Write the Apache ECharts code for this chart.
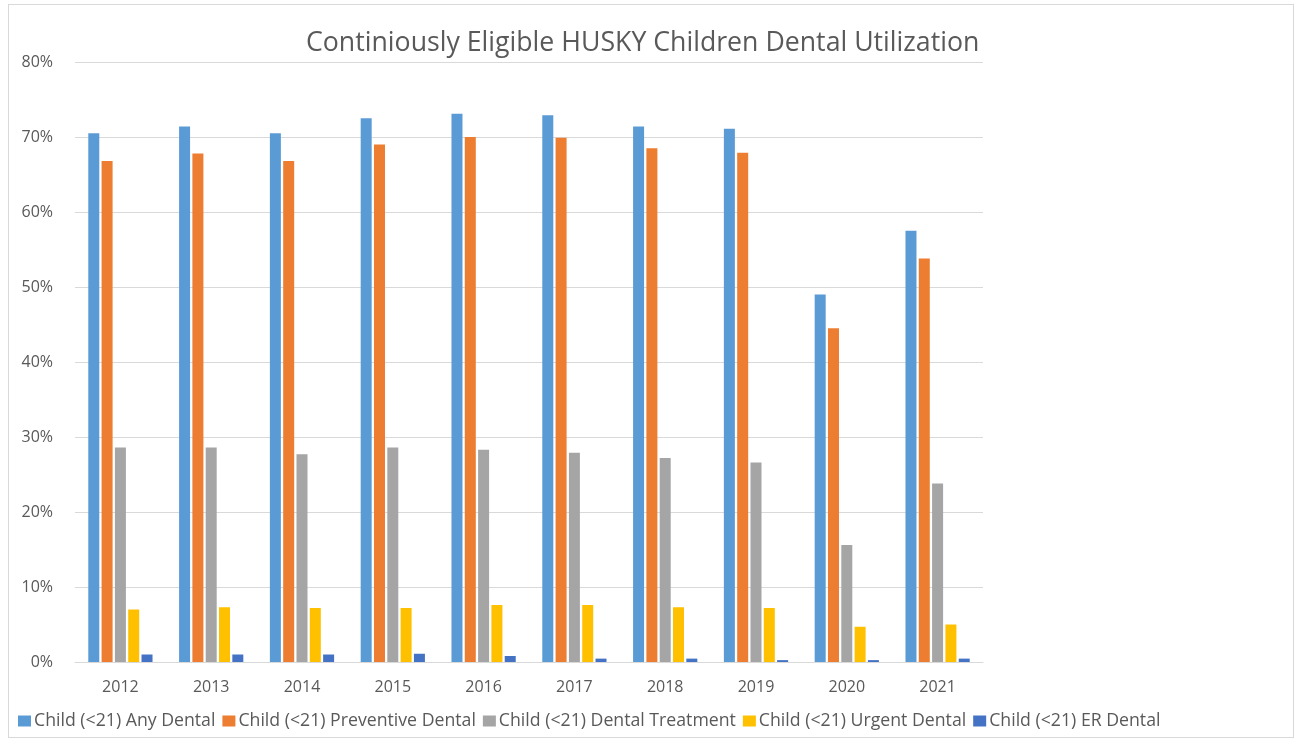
<!DOCTYPE html>
<html>
<head>
<meta charset="utf-8">
<script src="https://cdn.jsdelivr.net/npm/echarts@6/dist/echarts.min.js"></script>
<style>
html, body { margin: 0; padding: 0; background: #fff; }
#main { position: absolute; left: 8px; top: 4px; width: 1286px; height: 734px; border: 1px solid #d9d9d9; box-sizing: border-box; }
</style>
</head>
<body>
<div id="main"></div>
<script>
var years = ['2012', '2013', '2014', '2015', '2016', '2017', '2018', '2019', '2020', '2021'];
var seriesNames = ['Child (<21) Any Dental', 'Child (<21) Preventive Dental', 'Child (<21) Dental Treatment', 'Child (<21) Urgent Dental', 'Child (<21) ER Dental'];
var anyDental = [70.5, 71.4, 70.5, 72.5, 73.1, 72.9, 71.4, 71.1, 49.0, 57.5];
var preventive = [66.8, 67.8, 66.8, 69.0, 70.0, 69.9, 68.5, 67.9, 44.5, 53.8];
var treatment = [28.6, 28.6, 27.7, 28.6, 28.3, 27.9, 27.2, 26.6, 15.6, 23.8];
var urgent = [7.0, 7.3, 7.2, 7.2, 7.6, 7.6, 7.3, 7.2, 4.7, 5.0];
var erDental = [1.0, 1.0, 1.0, 1.1, 0.8, 0.45, 0.45, 0.25, 0.25, 0.45];
var colors = ['#5B9BD5', '#ED7D31', '#A5A5A5', '#FFC000', '#4472C4'];

var font = '"Open Sans", "Noto Sans", sans-serif';
var allData = [anyDental, preventive, treatment, urgent, erDental];

var series = [];
for (var i = 0; i < allData.length; i++) {
	series.push({
		name: seriesNames[i],
		type: 'bar',
		data: allData[i],
		barWidth: 11,
		barGap: '21%',
		itemStyle: { color: colors[i] }
	});
}

var myChart = echarts.init(document.getElementById('main'));
myChart.setOption({
	color: colors,
	animation: false,
	textStyle: { fontFamily: font },
	title: {
		text: 'Continiously Eligible HUSKY Children Dental Utilization',
		left: 292,
		top: 20,
		textStyle: { fontSize: 26.7, fontWeight: 'normal', color: '#595959', fontFamily: font }
	},
	legend: {
		data: seriesNames,
		left: 4,
		top: 702,
		itemWidth: 13,
		itemHeight: 11,
		itemGap: 7,
		icon: 'rect',
		textStyle: { fontSize: 17.7, color: '#595959', padding: [0, 0, 0, -2] }
	},
	grid: { left: 66, right: 310, top: 57, bottom: 75, containLabel: false },
	xAxis: {
		type: 'category',
		data: years,
		axisLine: { lineStyle: { color: '#d9d9d9' } },
		axisTick: { show: false },
		axisLabel: { fontSize: 16, color: '#595959', margin: 17 }
	},
	yAxis: {
		type: 'value',
		min: 0,
		max: 80,
		interval: 10,
		axisLine: { show: false },
		axisTick: { show: false },
		axisLabel: { fontSize: 16, color: '#595959', formatter: '{value}%', margin: 22 },
		splitLine: { lineStyle: { color: '#d9d9d9' } }
	},
	series: series
});
</script>
</body>
</html>
